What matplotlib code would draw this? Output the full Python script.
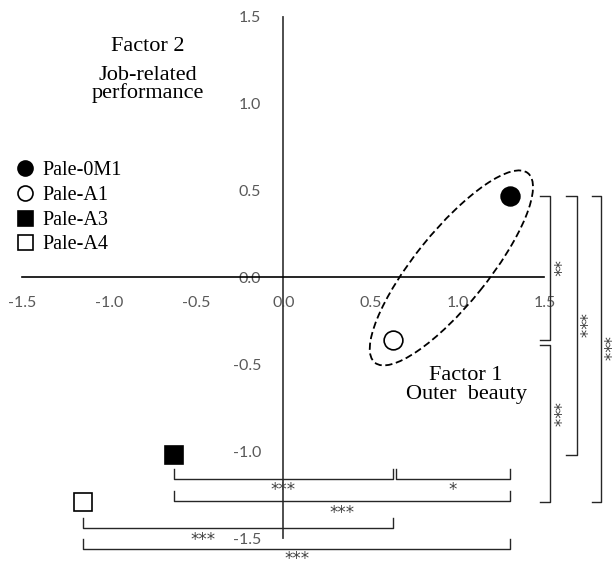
import numpy as np
import matplotlib
matplotlib.use("Agg")
import matplotlib.pyplot as plt
from matplotlib.patches import Ellipse

# Factor scores per sample
samples = ["Pale-0M1", "Pale-A1", "Pale-A3", "Pale-A4"]
factor1 = [1.30, 0.63, -0.63, -1.15]
factor2 = [0.47, -0.36, -1.02, -1.29]
markers = ["o", "o", "s", "s"]
filled = [True, False, True, False]

tick_values = [-1.5, -1.0, -0.5, 0.0, 0.5, 1.0, 1.5]

# Significance between samples along Factor 1 (horizontal brackets)
h_pairs = [("Pale-A3", "Pale-A1", "***"),
           ("Pale-A1", "Pale-0M1", "*"),
           ("Pale-A3", "Pale-0M1", "***"),
           ("Pale-A4", "Pale-A1", "***"),
           ("Pale-A4", "Pale-0M1", "***")]
# Significance between samples along Factor 2 (vertical brackets)
v_pairs = [("Pale-0M1", "Pale-A1", "**"),
           ("Pale-A1", "Pale-A4", "***"),
           ("Pale-0M1", "Pale-A3", "***"),
           ("Pale-0M1", "Pale-A4", "***")]

serif = "Liberation Serif"
fig = plt.figure(figsize=(6.12, 5.64), dpi=100)
ax = fig.add_axes([0, 0, 1, 1])
ax.set_xlim(-1.629, 1.888)
ax.set_ylim(-1.647, 1.595)

# Axes crossing at the origin
for side in ("top", "right"):
    ax.spines[side].set_visible(False)
ax.spines["left"].set_position(("data", 0))
ax.spines["bottom"].set_position(("data", 0))
ax.spines["left"].set_bounds(-1.5, 1.5)
ax.spines["bottom"].set_bounds(-1.5, 1.5)
ax.spines["left"].set_color("#404040")
ax.spines["bottom"].set_color("black")
ax.spines["left"].set_linewidth(1.3)
ax.spines["bottom"].set_linewidth(1.2)
ax.set_xticks(tick_values)
ax.set_yticks(tick_values)
ax.set_xticklabels([f"{v:.1f}" for v in tick_values])
ax.set_yticklabels([f"{v:.1f}" for v in tick_values])
ax.tick_params(axis="x", length=0, pad=13, labelsize=11.5, labelcolor="#595959")
ax.tick_params(axis="y", length=0, pad=16, labelsize=11.5, labelcolor="#595959")
for lab in ax.get_xticklabels() + ax.get_yticklabels():
    lab.set_family("Lato")
ax.set_zorder(1)

# Sample points
for name, x, y, m, f in zip(samples, factor1, factor2, markers, filled):
    ax.plot([x], [y], linestyle="none", marker=m, markersize=13.5,
            markerfacecolor="black" if f else "white",
            markeredgecolor="black", markeredgewidth=1.2, label=name,
            zorder=5)

# Dashed ellipse grouping Pale-0M1 and Pale-A1
pos = {n: (x, y) for n, x, y in zip(samples, factor1, factor2)}
(xa, ya), (xb, yb) = pos["Pale-0M1"], pos["Pale-A1"]
angle = np.degrees(np.arctan2(ya - yb, xa - xb))
ax.add_patch(Ellipse(((xa + xb) / 2, (ya + yb) / 2), width=1.40, height=0.42,
                     angle=angle, fill=False, edgecolor="black",
                     linestyle=(0, (4, 2)), linewidth=1.3, zorder=4))

# Horizontal significance brackets
bracket_kw = dict(color="#262626", linewidth=1.0, clip_on=False, zorder=3)
star_kw = dict(fontsize=12, color="#404040", family="DejaVu Sans",
               ha="center", va="center", clip_on=False)
h_levels = [-1.158, -1.158, -1.284, -1.440, -1.560]
h_label_y = [-1.222, -1.222, -1.352, -1.508, -1.618]
h_label_dx = [0.0, 0.0, 0.0, -0.20, 0.0]
h_start_gap = [0.0, 0.018, 0.0, 0.0, 0.0]
tick_h = 0.058
for (a, b, s), lev, ly, dx, g in zip(h_pairs, h_levels, h_label_y,
                                     h_label_dx, h_start_gap):
    x1 = pos[a][0] + g
    x2 = pos[b][0]
    ax.plot([x1, x1, x2, x2], [lev + tick_h, lev, lev, lev + tick_h], **bracket_kw)
    ax.text((x1 + x2) / 2 + dx, ly, s, **star_kw)

# Vertical significance brackets
v_levels = [1.532, 1.532, 1.687, 1.825]
v_ticks = [0.058, 0.058, 0.066, 0.052]
v_label_x = [1.543, 1.543, 1.698, 1.832]
v_label_dy = [0.0, 0.05, 0.0, 0.0]
v_start_gap = [0.0, -0.03, 0.0, 0.0]
for (a, b, s), lev, tk, lx, dy, g in zip(v_pairs, v_levels, v_ticks,
                                         v_label_x, v_label_dy, v_start_gap):
    y1 = pos[a][1] + g
    y2 = pos[b][1]
    ax.plot([lev - tk, lev, lev, lev - tk], [y1, y1, y2, y2], **bracket_kw)
    ax.text(lx, (y1 + y2) / 2 + dy, s, rotation=270, **star_kw)

# Factor titles
ax.text(-0.782, 1.299, "Factor 2", family=serif, fontsize=16,
        ha="center", va="baseline")
ax.text(-0.782, 1.137, "Job-related", family=serif, fontsize=16,
        ha="center", va="baseline")
ax.text(-0.782, 1.030, "performance", family=serif, fontsize=16,
        ha="center", va="baseline")
ax.text(1.05, -0.589, "Factor 1", family=serif, fontsize=16,
        ha="center", va="baseline")
ax.text(1.05, -0.701, "Outer  beauty", family=serif, fontsize=16,
        ha="center", va="baseline")

leg = ax.legend(loc="upper left", bbox_to_anchor=(17 / 612, 1 - 161 / 564),
                bbox_transform=fig.transFigure, frameon=False,
                prop={"family": serif, "size": 14.5}, markerscale=0.8,
                handlelength=0.8, handletextpad=0.45, labelspacing=0.28,
                borderpad=0, borderaxespad=0)

fig.savefig("out.png", dpi=100)
